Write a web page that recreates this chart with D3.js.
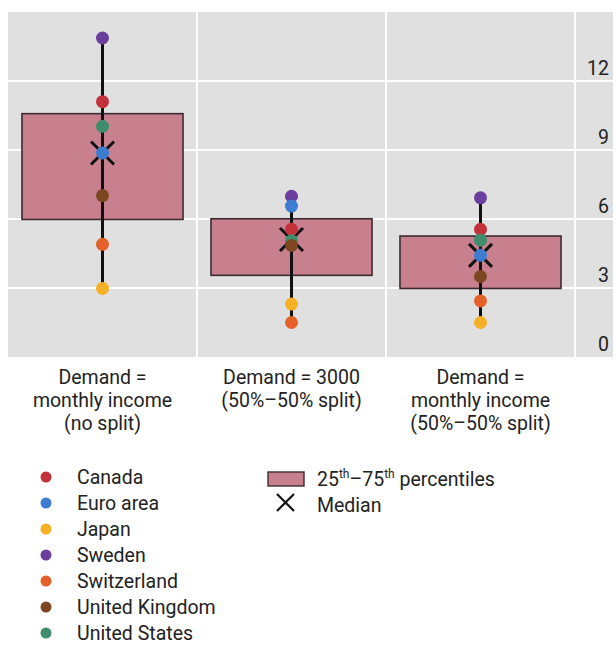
<!DOCTYPE html>
<html>
<head>
<meta charset="utf-8">
<script src="https://cdn.jsdelivr.net/npm/d3@7"></script>
<style>
  html, body { margin: 0; padding: 0; background: #ffffff; }
  svg { display: block; font-family: Roboto, "Open Sans", sans-serif; }
</style>
</head>
<body>
<svg id="chart" width="616" height="645"></svg>
<script>
// ---- data ----
const categories = ["noSplit", "fixed3000", "incomeSplit"];
const categoryLabels = [
  ["Demand =", "monthly income", "(no split)"],
  ["Demand = 3000", "(50%\u201350% split)"],
  ["Demand =", "monthly income", "(50%\u201350% split)"]
];
const countries = ["Canada", "Euro area", "Japan", "Sweden", "Switzerland", "United Kingdom", "United States"];
const countryColors = ["#c3323b", "#3d7cd0", "#f4b126", "#6b3d9c", "#e5612a", "#7c4720", "#3f8d6c"];
const canada      = [11.1, 5.55, 5.55];
const euroArea    = [8.87, 6.56, 4.42];
const japan       = [2.98, 2.30, 1.50];
const sweden      = [13.87, 6.99, 6.92];
const switzerland = [4.90, 1.50, 2.44];
const unitedKingdom = [7.02, 4.85, 3.50];
const unitedStates  = [10.03, 5.05, 5.08];
const p25    = [5.98, 3.55, 2.98];
const p75    = [10.58, 6.01, 5.26];
const median = [8.87, 5.11, 4.42];
const yTicks = [0, 3, 6, 9, 12];

const seriesByCountry = {
  "Canada": canada, "Euro area": euroArea, "Japan": japan, "Sweden": sweden,
  "Switzerland": switzerland, "United Kingdom": unitedKingdom, "United States": unitedStates
};
const drawOrder = ["Sweden", "Canada", "Euro area", "Japan", "Switzerland", "United States", "United Kingdom"];

// ---- layout ----
const FONT = 'Roboto, "Open Sans", sans-serif';
const svg = d3.select("#chart");
const plot = { left: 8, right: 613, top: 12, bottom: 357, axisX: 575 };
const boxFill = "#c8808f";
const boxStroke = "#3d2b30";
const bg = "#e0e0e0";

const x = d3.scaleBand().domain(categories).range([plot.left, plot.axisX]).paddingInner(0).paddingOuter(0);
const y = d3.scaleLinear().domain([0, 15]).range([plot.bottom, plot.top]);
const color = d3.scaleOrdinal().domain(countries).range(countryColors);

// background
svg.append("rect").attr("x", plot.left).attr("y", plot.top)
  .attr("width", plot.right - plot.left).attr("height", plot.bottom - plot.top).attr("fill", bg);

// horizontal gridlines
svg.append("g").selectAll("line").data(yTicks.filter(d => d > 0)).join("line")
  .attr("x1", plot.left).attr("x2", plot.right)
  .attr("y1", d => y(d)).attr("y2", d => y(d))
  .attr("stroke", "#ffffff").attr("stroke-width", 2);

// vertical separators
svg.append("g").selectAll("line").data(categories.slice(1).concat(["end"])).join("line")
  .attr("x1", d => d === "end" ? x.range()[1] : x(d))
  .attr("x2", d => d === "end" ? x.range()[1] : x(d))
  .attr("y1", plot.top).attr("y2", plot.bottom)
  .attr("stroke", "#ffffff").attr("stroke-width", 2);

// y axis (right side) using d3 axis
const yAxis = d3.axisRight(y).tickValues(yTicks).tickSize(0).tickPadding(0);
const gy = svg.append("g").attr("transform", `translate(${plot.right - 4},0)`).call(yAxis);
gy.select(".domain").remove();
gy.selectAll("text")
  .attr("text-anchor", "end").attr("x", 0).attr("dy", "-0.32em")
  .attr("font-size", 19.5).attr("fill", "#222")
  .style("font-family", FONT);

const boxW = x.bandwidth() * 0.852;

// boxes
const groups = svg.append("g").selectAll("g").data(categories).join("g");
groups.append("rect")
  .attr("x", d => x(d) + (x.bandwidth() - boxW) / 2)
  .attr("width", boxW)
  .attr("y", (d, i) => y(p75[i]))
  .attr("height", (d, i) => y(p25[i]) - y(p75[i]))
  .attr("fill", boxFill).attr("stroke", boxStroke).attr("stroke-width", 1.6);

// whiskers (min to max of country values)
groups.append("line")
  .attr("x1", d => x(d) + x.bandwidth() / 2).attr("x2", d => x(d) + x.bandwidth() / 2)
  .attr("y1", (d, i) => y(d3.max(countries, c => seriesByCountry[c][i])))
  .attr("y2", (d, i) => y(d3.min(countries, c => seriesByCountry[c][i])))
  .attr("stroke", "#111").attr("stroke-width", 3);

// median crosses
const crossPath = (s) => `M${-s},${-s}L${s},${s}M${-s},${s}L${s},${-s}`;
groups.append("path")
  .attr("transform", (d, i) => `translate(${x(d) + x.bandwidth() / 2},${y(median[i])})`)
  .attr("d", crossPath(11.5))
  .attr("stroke", "#111").attr("stroke-width", 3).attr("fill", "none");

// country dots
drawOrder.forEach(c => {
  groups.append("circle")
    .attr("cx", d => x(d) + x.bandwidth() / 2)
    .attr("cy", (d, i) => y(seriesByCountry[c][i]))
    .attr("r", 6.5)
    .attr("fill", color(c));
});

// category labels (one text per line)
categories.forEach((d, i) => {
  svg.append("g").selectAll("text").data(categoryLabels[i]).join("text")
    .attr("x", x(d) + x.bandwidth() / 2)
    .attr("y", (t, j) => 384 + j * 23)
    .attr("text-anchor", "middle").attr("font-size", 19.5).attr("fill", "#222")
    .text(t => t);
});

// legend: countries
const leg = svg.append("g").selectAll("g").data(countries).join("g")
  .attr("transform", (d, i) => `translate(46,${477 + i * 26})`);
leg.append("circle").attr("r", 5.5).attr("fill", d => color(d));
leg.append("text").attr("x", 31).attr("y", 7).attr("font-size", 19.5).attr("fill", "#222").text(d => d);

// legend: box & median
const leg2 = svg.append("g");
leg2.append("rect").attr("x", 268).attr("y", 472).attr("width", 36).attr("height", 14)
  .attr("fill", boxFill).attr("stroke", boxStroke).attr("stroke-width", 1.4);
const t1 = leg2.append("text").attr("x", 317).attr("y", 486).attr("font-size", 19.5).attr("fill", "#222");
t1.append("tspan").text("25");
t1.append("tspan").attr("font-size", 12).attr("dy", -8).text("th");
t1.append("tspan").attr("dy", 8).text("\u201375");
t1.append("tspan").attr("font-size", 12).attr("dy", -8).text("th");
t1.append("tspan").attr("dy", 8).text(" percentiles");
leg2.append("path").attr("transform", "translate(285.5,502.5)").attr("d", crossPath(8.5))
  .attr("stroke", "#111").attr("stroke-width", 2.2).attr("fill", "none");
leg2.append("text").attr("x", 317).attr("y", 512).attr("font-size", 19.5).attr("fill", "#222").text("Median");
</script>
</body>
</html>
